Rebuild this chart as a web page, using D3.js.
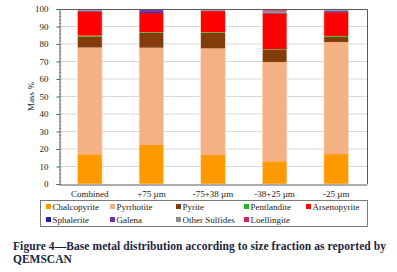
<!DOCTYPE html>
<html><head><meta charset="utf-8">
<script src="https://cdn.jsdelivr.net/npm/d3@7"></script>
<style>body{margin:0;background:#fff}svg{display:block}</style>
</head><body>
<svg id="c" width="397" height="272"></svg>
<script>
const categories = ["Combined", "+75 µm", "-75+38 µm", "-38+25 µm", "-25 µm"];
const minerals = ["Chalcopyrite","Pyrrhotite","Pyrite","Pentlandite","Arsenopyrite","Sphalerite","Galena","Other Sulfides","Loellingite"];
const colors = ["#FF9900","#F4B183","#843C0C","#22B822","#FF0000","#1F1FB4","#7030A0","#8C8C8C","#D8205A"];
const chalcopyrite = [17.0, 22.3, 16.6, 13.0, 17.1];
const pyrrhotite   = [61.0, 55.6, 60.9, 56.7, 64.0];
const pyrite       = [6.3, 8.6, 9.0, 7.2, 3.0];
const pentlandite  = [0.5, 0.3, 0.3, 0.2, 0.5];
const arsenopyrite = [13.8, 11.0, 12.0, 20.4, 13.6];
const sphalerite   = [0.3, 0.5, 0.2, 0.2, 0.5];
const galena       = [0.2, 1.1, 0.1, 0.1, 0.3];
const otherSulf    = [0.4, 0.3, 0.6, 1.2, 0.4];
const loellingite  = [0.5, 0.3, 0.3, 1.0, 0.6];
const yTicks = [0,10,20,30,40,50,60,70,80,90,100];
const series = [chalcopyrite,pyrrhotite,pyrite,pentlandite,arsenopyrite,sphalerite,galena,otherSulf,loellingite];

const rows = categories.map((c,i)=>{const o={cat:c}; minerals.forEach((m,j)=>o[m]=series[j][i]); return o;});
const stack = d3.stack().keys(minerals)(rows);

const svg = d3.select("#c");
const L=59, R=367, T=9, B=184;
const x = d3.scaleBand().domain(categories).range([L,R]).paddingInner(0.6).paddingOuter(0.3);
const y = d3.scaleLinear().domain([0,100]).range([B,T]);
const serif = "'Liberation Serif','Times New Roman',serif";

// gridlines
svg.append("g").selectAll("line").data(yTicks.filter(d=>d>0&&d<100)).join("line")
  .attr("x1",L).attr("x2",R).attr("y1",d=>y(d)).attr("y2",d=>y(d))
  .attr("stroke","#d9d9d9").attr("stroke-width",1);

// bars
svg.append("g").selectAll("g").data(stack).join("g")
  .attr("fill",(d,i)=>colors[i])
  .selectAll("rect").data(d=>d).join("rect")
  .attr("x",d=>x(d.data.cat)).attr("width",x.bandwidth())
  .attr("y",d=>y(d[1])).attr("height",d=>Math.max(0,y(d[0])-y(d[1])));
// pale bar outline
svg.append("g").selectAll("rect").data(categories).join("rect")
  .attr("x",d=>x(d)).attr("width",x.bandwidth()).attr("y",y(100)).attr("height",y(0)-y(100))
  .attr("fill","none").attr("stroke","#fbe3cf").attr("stroke-width",0.6);

// frame top/right
svg.append("path").attr("d",`M${L},${T+0.5}H${R+0.5}V${B}`).attr("fill","none").attr("stroke","#595959").attr("stroke-width",1);

// y axis
const ya = svg.append("g").attr("transform",`translate(${L+0.5},0)`)
  .call(d3.axisLeft(y).tickValues(yTicks).tickSize(3).tickPadding(8));
ya.select(".domain").attr("stroke","#595959");
ya.selectAll(".tick line").attr("stroke","#595959");
ya.selectAll("text").attr("font-family",serif).attr("font-size",9).attr("fill","#222");
// minor ticks
svg.append("g").selectAll("line").data(d3.range(0,101,2)).join("line")
  .attr("x1",L).attr("x2",L+2.5).attr("y1",d=>y(d)+0.5).attr("y2",d=>y(d)+0.5)
  .attr("stroke","#777").attr("stroke-width",0.6);

// x axis
const xa = svg.append("g").attr("transform",`translate(0,${B+0.5})`)
  .call(d3.axisBottom(x).tickSize(0).tickPadding(6));
xa.select(".domain").attr("stroke","#595959");
xa.selectAll("text").attr("font-family",serif).attr("font-size",9).attr("fill","#222");

svg.append("text").attr("transform",`translate(34,${(T+B)/2}) rotate(-90)`)
  .attr("text-anchor","middle").attr("font-family",serif).attr("font-size",9).attr("fill","#222").text("Mass %");

// legend
svg.append("rect").attr("x",40.5).attr("y",200.5).attr("width",327).attr("height",26)
  .attr("fill","none").attr("stroke","#595959").attr("stroke-width",0.8);
const colX=[46,110,176,244,306];
const lg = svg.append("g").selectAll("g").data(minerals).join("g")
  .attr("transform",(d,i)=>`translate(${colX[i%5]},${i<5?207:220})`);
lg.append("rect").attr("x",0).attr("y",-3).attr("width",5).attr("height",5).attr("fill",(d,i)=>colors[i]);
lg.append("text").attr("x",6.5).attr("y",2.5).attr("font-family",serif).attr("font-size",9).attr("fill","#222").text(d=>d);

// caption
const cap = svg.append("g").attr("font-family","'Liberation Serif','Times New Roman',serif").attr("font-weight","bold").attr("fill","#1a2540").attr("font-size",11.5);
cap.append("text").attr("x",13).attr("y",250).attr("textLength",373).attr("lengthAdjust","spacing")
  .text("Figure 4—Base metal distribution according to size fraction as reported by");
cap.append("text").attr("x",13).attr("y",263).text("QEMSCAN");
</script>
</body></html>
